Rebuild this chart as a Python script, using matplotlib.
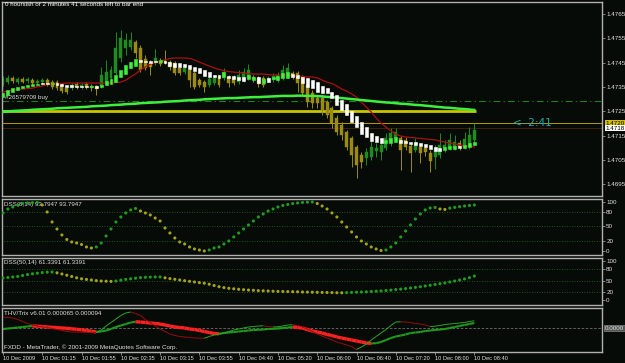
import numpy as np
import matplotlib.pyplot as plt
from matplotlib.collections import LineCollection
from matplotlib.transforms import blended_transform_factory

plt.rcParams['font.family'] = ['Liberation Sans', 'DejaVu Sans']

# 5 minute bars, 10 Dec 2009
bar_open = [1.47366, 1.47370, 1.47387, 1.47370, 1.47383, 1.47374, 1.47378, 1.47366, 1.47370, 1.47378,
            1.47370, 1.47370, 1.47358, 1.47345, 1.47345, 1.47362, 1.47350, 1.47362, 1.47354, 1.47354,
            1.47354, 1.47370, 1.47387, 1.47407, 1.47469, 1.47510, 1.47514, 1.47535, 1.47510, 1.47465,
            1.47448, 1.47448, 1.47457, 1.47461, 1.47452, 1.47448, 1.47428, 1.47411, 1.47420, 1.47407,
            1.47378, 1.47370, 1.47358, 1.47366, 1.47391, 1.47387, 1.47391, 1.47391, 1.47370, 1.47378,
            1.47387, 1.47391, 1.47387, 1.47387, 1.47378, 1.47378, 1.47378, 1.47387, 1.47395, 1.47407,
            1.47407, 1.47391, 1.47358, 1.47325, 1.47304, 1.47304, 1.47288, 1.47263, 1.47222, 1.47193,
            1.47164, 1.47140, 1.47103, 1.47070, 1.47058, 1.47062, 1.47086, 1.47082, 1.47099, 1.47119,
            1.47140, 1.47140, 1.47132, 1.47107, 1.47090, 1.47103, 1.47099, 1.47078, 1.47062, 1.47070,
            1.47099, 1.47099, 1.47099, 1.47119, 1.47103, 1.47103, 1.47132]
bar_high = [1.47395, 1.47399, 1.47395, 1.47391, 1.47391, 1.47391, 1.47387, 1.47383, 1.47387, 1.47387,
            1.47378, 1.47378, 1.47366, 1.47354, 1.47366, 1.47370, 1.47366, 1.47370, 1.47362, 1.47358,
            1.47432, 1.47461, 1.47436, 1.47576, 1.47584, 1.47572, 1.47576, 1.47543, 1.47522, 1.47481,
            1.47461, 1.47506, 1.47469, 1.47502, 1.47461, 1.47457, 1.47436, 1.47436, 1.47428, 1.47415,
            1.47387, 1.47378, 1.47391, 1.47399, 1.47399, 1.47428, 1.47399, 1.47399, 1.47420, 1.47428,
            1.47444, 1.47399, 1.47395, 1.47395, 1.47395, 1.47407, 1.47411, 1.47440, 1.47448, 1.47415,
            1.47415, 1.47399, 1.47366, 1.47337, 1.47313, 1.47317, 1.47296, 1.47271, 1.47234, 1.47206,
            1.47173, 1.47148, 1.47111, 1.47082, 1.47099, 1.47132, 1.47119, 1.47132, 1.47160, 1.47181,
            1.47181, 1.47148, 1.47144, 1.47119, 1.47140, 1.47111, 1.47107, 1.47090, 1.47111, 1.47160,
            1.47132, 1.47160, 1.47152, 1.47132, 1.47164, 1.47185, 1.47201]
bar_low = [1.47354, 1.47362, 1.47366, 1.47362, 1.47366, 1.47366, 1.47354, 1.47358, 1.47362, 1.47354,
           1.47341, 1.47337, 1.47325, 1.47321, 1.47337, 1.47341, 1.47341, 1.47341, 1.47333, 1.47317,
           1.47345, 1.47362, 1.47378, 1.47399, 1.47452, 1.47481, 1.47502, 1.47469, 1.47411, 1.47420,
           1.47399, 1.47440, 1.47436, 1.47444, 1.47420, 1.47399, 1.47399, 1.47403, 1.47350, 1.47341,
           1.47350, 1.47329, 1.47350, 1.47358, 1.47350, 1.47378, 1.47350, 1.47358, 1.47362, 1.47370,
           1.47378, 1.47370, 1.47350, 1.47350, 1.47370, 1.47370, 1.47370, 1.47378, 1.47387, 1.47383,
           1.47329, 1.47317, 1.47267, 1.47263, 1.47263, 1.47234, 1.47222, 1.47181, 1.47152, 1.47132,
           1.47090, 1.47021, 1.46975, 1.47016, 1.47029, 1.47049, 1.47062, 1.47049, 1.47090, 1.47107,
           1.47123, 1.47008, 1.47090, 1.47000, 1.47082, 1.47037, 1.47066, 1.47000, 1.47012, 1.47058,
           1.47082, 1.47090, 1.47090, 1.47090, 1.47095, 1.47095, 1.47123]
bar_close = [1.47383, 1.47387, 1.47374, 1.47383, 1.47370, 1.47383, 1.47366, 1.47374, 1.47378, 1.47362,
             1.47350, 1.47345, 1.47333, 1.47329, 1.47358, 1.47350, 1.47358, 1.47350, 1.47345, 1.47341,
             1.47399, 1.47411, 1.47420, 1.47510, 1.47551, 1.47543, 1.47543, 1.47490, 1.47420, 1.47428,
             1.47432, 1.47469, 1.47444, 1.47448, 1.47432, 1.47407, 1.47407, 1.47428, 1.47378, 1.47350,
             1.47358, 1.47350, 1.47383, 1.47387, 1.47358, 1.47411, 1.47366, 1.47366, 1.47399, 1.47411,
             1.47420, 1.47383, 1.47362, 1.47358, 1.47387, 1.47395, 1.47399, 1.47420, 1.47428, 1.47395,
             1.47366, 1.47325, 1.47288, 1.47284, 1.47284, 1.47255, 1.47234, 1.47201, 1.47164, 1.47152,
             1.47103, 1.47070, 1.47029, 1.47041, 1.47082, 1.47103, 1.47099, 1.47111, 1.47140, 1.47160,
             1.47164, 1.47090, 1.47103, 1.47078, 1.47119, 1.47078, 1.47082, 1.47045, 1.47099, 1.47111,
             1.47111, 1.47132, 1.47123, 1.47103, 1.47136, 1.47152, 1.47173]

# Heiken Ashi overlay (lime = up, white = down)
ha_open = [1.47308, 1.47317, 1.47329, 1.47337, 1.47345, 1.47350, 1.47354, 1.47358, 1.47366, 1.47366,
           1.47362, 1.47366, 1.47362, 1.47358, 1.47358, 1.47354, 1.47354, 1.47354, 1.47350, 1.47354,
           1.47350, 1.47358, 1.47362, 1.47370, 1.47391, 1.47403, 1.47428, 1.47436, 1.47461, 1.47457,
           1.47457, 1.47457, 1.47452, 1.47457, 1.47452, 1.47448, 1.47448, 1.47444, 1.47440, 1.47432,
           1.47428, 1.47420, 1.47411, 1.47399, 1.47399, 1.47391, 1.47395, 1.47395, 1.47391, 1.47391,
           1.47383, 1.47378, 1.47391, 1.47366, 1.47387, 1.47383, 1.47378, 1.47387, 1.47387, 1.47403,
           1.47399, 1.47391, 1.47387, 1.47378, 1.47370, 1.47354, 1.47345, 1.47329, 1.47317, 1.47296,
           1.47280, 1.47251, 1.47230, 1.47206, 1.47185, 1.47160, 1.47148, 1.47140, 1.47119, 1.47119,
           1.47123, 1.47132, 1.47127, 1.47123, 1.47123, 1.47119, 1.47115, 1.47111, 1.47103, 1.47099,
           1.47090, 1.47095, 1.47095, 1.47107, 1.47099, 1.47103, 1.47111]
ha_close = [1.47325, 1.47337, 1.47345, 1.47350, 1.47354, 1.47358, 1.47362, 1.47362, 1.47362, 1.47362,
            1.47366, 1.47358, 1.47354, 1.47350, 1.47350, 1.47350, 1.47350, 1.47350, 1.47354, 1.47345,
            1.47358, 1.47374, 1.47383, 1.47399, 1.47420, 1.47440, 1.47452, 1.47465, 1.47452, 1.47452,
            1.47448, 1.47452, 1.47461, 1.47448, 1.47436, 1.47432, 1.47432, 1.47432, 1.47424, 1.47415,
            1.47407, 1.47395, 1.47391, 1.47391, 1.47387, 1.47411, 1.47387, 1.47383, 1.47378, 1.47374,
            1.47399, 1.47391, 1.47366, 1.47383, 1.47370, 1.47391, 1.47395, 1.47407, 1.47411, 1.47391,
            1.47387, 1.47366, 1.47350, 1.47345, 1.47329, 1.47325, 1.47325, 1.47304, 1.47276, 1.47255,
            1.47234, 1.47206, 1.47185, 1.47156, 1.47144, 1.47127, 1.47123, 1.47119, 1.47132, 1.47140,
            1.47144, 1.47119, 1.47119, 1.47115, 1.47111, 1.47107, 1.47103, 1.47095, 1.47086, 1.47086,
            1.47103, 1.47107, 1.47107, 1.47099, 1.47111, 1.47119, 1.47123]

# moving averages
ma_fast = [1.47329, 1.47333, 1.47337, 1.47339, 1.47341, 1.47343, 1.47345, 1.47350, 1.47354, 1.47358,
           1.47362, 1.47362, 1.47364, 1.47366, 1.47366, 1.47366, 1.47366, 1.47366, 1.47366, 1.47366,
           1.47366, 1.47366, 1.47366, 1.47368, 1.47370, 1.47378, 1.47391, 1.47403, 1.47420, 1.47432,
           1.47444, 1.47450, 1.47457, 1.47461, 1.47467, 1.47469, 1.47469, 1.47469, 1.47467, 1.47461,
           1.47452, 1.47444, 1.47436, 1.47428, 1.47422, 1.47417, 1.47413, 1.47411, 1.47409, 1.47407,
           1.47405, 1.47403, 1.47403, 1.47403, 1.47401, 1.47399, 1.47399, 1.47399, 1.47397, 1.47395,
           1.47395, 1.47393, 1.47391, 1.47391, 1.47387, 1.47378, 1.47370, 1.47364, 1.47354, 1.47341,
           1.47333, 1.47321, 1.47308, 1.47288, 1.47267, 1.47247, 1.47222, 1.47201, 1.47185, 1.47169,
           1.47156, 1.47148, 1.47144, 1.47142, 1.47140, 1.47138, 1.47136, 1.47134, 1.47132, 1.47127,
           1.47123, 1.47119, 1.47115, 1.47111, 1.47107, 1.47105, 1.47103]
ma_slow = [1.47247, 1.47249, 1.47251, 1.47252, 1.47253, 1.47254, 1.47256, 1.47257, 1.47258, 1.47259,
           1.47260, 1.47262, 1.47263, 1.47264, 1.47265, 1.47266, 1.47267, 1.47268, 1.47270, 1.47271,
           1.47272, 1.47273, 1.47275, 1.47276, 1.47277, 1.47279, 1.47280, 1.47281, 1.47283, 1.47284,
           1.47285, 1.47286, 1.47287, 1.47289, 1.47290, 1.47291, 1.47292, 1.47294, 1.47295, 1.47296,
           1.47297, 1.47299, 1.47300, 1.47301, 1.47302, 1.47303, 1.47304, 1.47304, 1.47305, 1.47306,
           1.47307, 1.47308, 1.47308, 1.47309, 1.47310, 1.47311, 1.47312, 1.47313, 1.47313, 1.47313,
           1.47314, 1.47314, 1.47313, 1.47313, 1.47312, 1.47311, 1.47309, 1.47308, 1.47306, 1.47304,
           1.47302, 1.47300, 1.47298, 1.47296, 1.47294, 1.47292, 1.47290, 1.47288, 1.47286, 1.47285,
           1.47283, 1.47281, 1.47280, 1.47278, 1.47276, 1.47275, 1.47273, 1.47271, 1.47269, 1.47267,
           1.47265, 1.47264, 1.47262, 1.47260, 1.47259, 1.47257, 1.47255]

order_price = 1.4729
level_price = 1.4725
bid_price = 1.4720
last_price = 1.4718
price_ticks = [1.4695, 1.4705, 1.4715, 1.4725, 1.4735, 1.4745, 1.4755, 1.4765]

# DSS(8,14) and DSS(50,14)
dss_fast = [77.6, 85.7, 89.8, 93.9, 96.9, 98.0, 98.6, 99.0, 93.9, 79.6,
            59.2, 44.9, 32.7, 23.5, 18.4, 16.3, 13.3, 8.2, 6.1, 8.2,
            16.3, 30.6, 44.9, 59.2, 69.4, 77.6, 83.7, 86.7, 81.6, 77.6,
            73.5, 67.3, 61.2, 46.9, 36.7, 26.5, 18.4, 14.3, 8.2, 4.1,
            2.0, 0.0, 2.0, 6.1, 8.2, 14.3, 20.4, 28.6, 36.7, 44.9,
            53.1, 61.2, 69.4, 75.5, 81.6, 85.7, 89.8, 92.9, 94.9, 96.9,
            98.0, 99.0, 99.6, 100.0, 96.9, 91.8, 85.7, 77.6, 69.4, 59.2,
            49.0, 38.8, 28.6, 20.4, 14.3, 8.2, 4.1, 1.0, 2.0, 8.2,
            16.3, 28.6, 40.8, 53.1, 65.3, 75.5, 83.7, 87.8, 88.8, 85.7,
            84.7, 87.5, 89.0, 90.4, 91.8, 92.9, 93.7947]
dss_slow = [56.4, 57.7, 59.0, 60.3, 62.8, 65.4, 67.2, 68.7, 70.3, 71.3,
            71.8, 69.7, 66.7, 63.6, 60.3, 56.9, 54.4, 52.8, 51.3, 49.7,
            48.7, 48.2, 47.7, 48.7, 50.8, 52.8, 54.4, 55.9, 57.4, 58.2,
            58.7, 59.0, 59.2, 56.9, 54.9, 53.1, 51.3, 49.5, 47.9, 46.2,
            44.6, 43.1, 40.5, 37.2, 34.1, 31.8, 30.0, 28.7, 27.4, 26.4,
            25.6, 24.9, 24.1, 23.6, 23.1, 22.6, 22.1, 21.8, 21.5, 21.3,
            21.0, 20.5, 20.3, 20.0, 19.7, 19.5, 19.2, 19.0, 18.7, 18.5,
            19.0, 19.5, 20.0, 20.5, 21.0, 21.8, 22.6, 23.3, 24.4, 25.4,
            26.7, 27.9, 29.2, 30.8, 32.3, 34.1, 35.9, 37.7, 39.7, 41.8,
            43.8, 46.2, 48.7, 51.3, 54.1, 57.2, 61.3391]

# THV/Trix, in units of 1e-5
thv_main = [-1.3, -0.65, 0.0, 0.65, 1.3, 1.95, 2.6, 2.34, 1.95, 1.3,
            0.91, 0.52, 0.0, -0.39, -1.04, -1.69, -2.34, -3.25, -4.16, -5.2,
            -4.55, -3.25, -1.3, 1.3, 3.25, 5.2, 7.15, 8.06, 7.8, 7.15,
            6.5, 5.85, 5.2, 3.9, 2.6, 1.3, 0.65, 0.0, -1.3, -1.95,
            -3.25, -4.55, -5.85, -7.15, -7.54, -6.5, -5.85, -5.2, -4.55, -3.9,
            -3.25, -2.6, -2.34, -1.95, -1.3, -1.04, -0.65, 0.0, 0.65, 1.3,
            0.65, 0.0, -1.95, -3.9, -5.2, -6.5, -8.45, -9.75, -11.7, -13.0,
            -14.3, -15.6, -16.9, -18.2, -19.5, -20.15, -19.76, -18.2, -15.6, -13.0,
            -11.05, -9.75, -8.45, -6.5, -5.85, -5.2, -3.9, -3.25, -2.6, -1.95,
            -1.3, 0.0, 1.3, 2.6, 3.9, 5.2, 6.5]
thv_signal = [14.3, 13.65, 13.0, 11.05, 8.45, 5.85, 3.9, 2.6, 1.3, 0.65,
              -0.65, -1.95, -3.25, -4.55, -5.2, -5.33, -5.46, -5.59, -5.72, -5.85,
              -2.6, 2.6, 7.15, 11.7, 16.25, 19.5, 20.8, 18.85, 16.25, 11.05,
              7.15, 2.6, -1.3, -4.55, -7.8, -9.75, -11.05, -11.7, -12.35, -13.0,
              -13.26, -13.39, -11.05, -9.1, -7.8, -6.5, -4.55, -2.6, -1.3, 0.0,
              1.3, 1.95, 2.6, 2.86, 1.95, 1.3, 1.56, 2.6, 3.9, 4.16,
              3.25, 1.3, -1.3, -4.55, -7.8, -10.4, -13.0, -15.6, -18.2, -20.15,
              -22.1, -24.05, -27.95, -24.7, -20.8, -15.6, -11.05, -6.5, -1.95, 3.25,
              7.8, 8.06, 7.8, 7.15, 5.85, 5.2, 3.9, 1.95, 2.34, 3.25,
              4.55, 5.2, 5.85, 6.5, 7.15, 8.45, 9.4]

time_labels = ['10 Dec 2009', '10 Dec 01:15', '10 Dec 01:55', '10 Dec 02:35', '10 Dec 03:15',
               '10 Dec 03:55', '10 Dec 04:40', '10 Dec 05:20', '10 Dec 06:00', '10 Dec 06:40',
               '10 Dec 07:20', '10 Dec 08:00', '10 Dec 08:40']

BG = '#070b07'
FRAME = '#b0b0b0'
TXT = '#e0e0e0'
FS = 4.5
W, H = 625, 363

fig = plt.figure(figsize=(W / 100, H / 100), dpi=100, facecolor=BG)
x = np.arange(len(bar_open))


def panel(top, bottom):
    ax = fig.add_axes([2 / W, 1 - bottom / H, 600 / W, (bottom - top) / H])
    ax.set_facecolor(BG)
    for s in ax.spines.values():
        s.set_color(FRAME)
        s.set_linewidth(1.0)
    ax.set_xlim(-0.2, 122.0)
    ax.yaxis.tick_right()
    ax.tick_params(axis='y', colors=FRAME, labelcolor=TXT, labelsize=FS,
                   length=2, width=0.5, pad=1)
    ax.tick_params(axis='x', bottom=False, labelbottom=False)
    return ax


def seg_line(ax, vals, up_col, dn_col, lw_up, lw_dn, z):
    v = np.array(vals)
    pts = np.column_stack([x, v])
    segs = np.stack([pts[:-1], pts[1:]], axis=1)
    rising = v[1:] >= v[:-1]
    lc = LineCollection(segs, colors=np.where(rising, up_col, dn_col),
                        linewidths=np.where(rising, lw_up, lw_dn), zorder=z)
    ax.add_collection(lc)


# ---- main price panel ----
ax = panel(2, 196)
ax.set_ylim(1.469011, 1.476994)
ax.set_yticks(price_ticks)
ax.set_yticklabels(['%.4f' % p for p in price_ticks])

o, c = np.array(bar_open), np.array(bar_close)
cc = np.where(c >= o, '#1f8c1f', '#9c8b0e')
ax.vlines(x, bar_low, bar_high, colors=cc, lw=0.7, zorder=2)
ax.bar(x, np.abs(c - o), bottom=np.minimum(o, c), width=0.6, color=cc,
       edgecolor=cc, lw=0.3, zorder=2)

ho, hc = np.array(ha_open), np.array(ha_close)
hcol = np.where(hc > ho, '#3cf03c', '#ffffff')
ax.bar(x, np.abs(hc - ho), bottom=np.minimum(ho, hc), width=0.6, color=hcol,
       edgecolor=hcol, lw=0.4, zorder=4)

ax.plot(x, ma_fast, color='#aa1010', lw=0.9, zorder=3)
ax.plot(x, ma_slow, color='#3df03d', lw=1.8, zorder=3)

ax.axhline(order_price, color='#1f7f1f', lw=0.8, ls=(0, (6, 3, 1, 3)), zorder=1)
ax.hlines(level_price, -0.2, 96.3, color='#c8c400', lw=2.0, zorder=1)
ax.axhline(bid_price, color='#b89c00', lw=0.7, zorder=1)
ax.axhline(last_price, color='#40200f', lw=0.7, zorder=1)

blend = blended_transform_factory(ax.transAxes, ax.transData)
ax.text(1.005, bid_price, '%.4f' % bid_price, transform=blend, fontsize=FS, va='center',
        color='black', bbox=dict(fc='#d8c000', ec='none', pad=0.3), zorder=6)
ax.text(1.005, last_price, '%.4f' % last_price, transform=blend, fontsize=FS, va='center',
        color='black', bbox=dict(fc='white', ec='none', pad=0.3), zorder=6)
ax.text(103.9, bid_price, '<--2:41', color='#22aaaa', fontsize=7.5,
        family='DejaVu Sans', va='center', zorder=6)

fig.text(5 / W, 1 - 5 / H, '0 hoursish or 2 minutes 41 seconds left to bar end',
         color='white', fontsize=FS, va='center')
fig.text(5 / W, 1 - 98 / H, '#26579709 buy', color=TXT, fontsize=FS, va='center')


# ---- DSS panels ----
def dss_panel(top, bottom, vals, lims, label):
    a = panel(top, bottom)
    a.set_ylim(*lims)
    v = np.array(vals)
    rising = np.r_[True, v[1:] >= v[:-1]]
    a.text(0.004, 0.9, label, transform=a.transAxes, color=TXT, fontsize=FS, va='center', zorder=2)
    a.scatter(x, v, s=5, c=np.where(rising, '#1e9e1e', '#a4a414'), linewidths=0, zorder=3)
    a.hlines([20, 50, 80], -1, 130, colors='#1d6e1d', linestyles=(0, (1, 2)), lw=0.6)
    a.set_yticks([0, 20, 50, 80, 100])
    return a


dss_panel(199, 255, dss_fast, (-8.2, 106.1),
          'DSS(8,14) %.4f %.4f' % (dss_fast[-1], dss_fast[-1]))
dss_panel(258, 305, dss_slow, (-12.8, 107.7),
          'DSS(50,14) %.4f %.4f' % (dss_slow[-1], dss_slow[-1]))

# ---- THV/Trix panel ----
ax4 = panel(308, 352)
ax4.set_ylim(-31.2, 26)
ax4.axhline(0, color='#707070', lw=0.6, ls=(0, (3, 2)), zorder=1)
seg_line(ax4, thv_main, '#1f9a1f', '#ff2020', 1.5, 2.4, 2)
seg_line(ax4, thv_signal, '#28a828', '#9a0c0c', 0.7, 0.7, 3)
ax4.set_yticks([])
blend4 = blended_transform_factory(ax4.transAxes, ax4.transData)
ax4.text(1.005, 0, '0.0000', transform=blend4, fontsize=FS, va='center', color=TXT,
         bbox=dict(fc='#555555', ec='#999999', lw=0.4, pad=0.4))
ax4.text(0.004, 0.88, 'THV/Trix v6.01 %.6f %.6f' % (thv_main[-1] * 1e-5, thv_signal[-1] * 1e-5),
         transform=ax4.transAxes, color=TXT, fontsize=FS, va='center')
ax4.text(0.004, 0.12, 'FXDD - MetaTrader, \u00a9 2001-2009 MetaQuotes Software Corp.',
         transform=ax4.transAxes, color=TXT, fontsize=FS, va='center')

ax4.set_xticks(range(0, len(x), 8))
ax4.set_xticklabels(time_labels, ha='left')
ax4.tick_params(axis='x', bottom=True, labelbottom=True, length=2.5, width=0.5,
                colors=FRAME, labelcolor=TXT, labelsize=4.1, pad=0.5)

fig.savefig('out.png', dpi=100, facecolor=BG)
